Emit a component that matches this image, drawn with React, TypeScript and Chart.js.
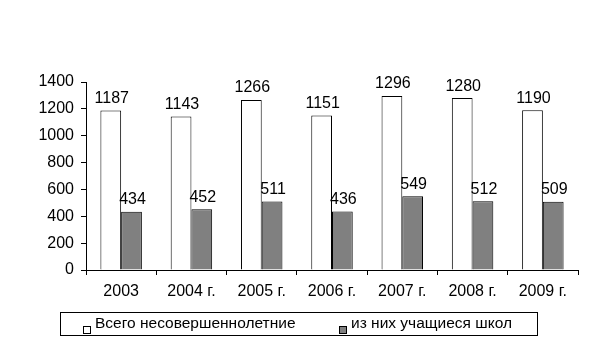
import React, { useEffect, useRef } from "react";
import { Chart, registerables } from "chart.js";

Chart.register(...registerables);

const categories = ["2003", "2004 г.", "2005 г.", "2006 г.", "2007 г.", "2008 г.", "2009 г."];
const totalMinors = [1187, 1143, 1266, 1151, 1296, 1280, 1190];
const schoolStudents = [434, 452, 511, 436, 549, 512, 509];
const seriesNames = ["Всего несовершеннолетние", "из них учащиеся школ"];
const yTicks = [0, 200, 400, 600, 800, 1000, 1200, 1400];

const FONT = "'Liberation Sans', Arial, sans-serif";

const labelsPlugin = {
  id: "valueLabels",
  afterDatasetsDraw(chart: any) {
    const ctx = chart.ctx;
    ctx.save();
    ctx.fillStyle = "#000";
    ctx.font = `16px ${FONT}`;
    ctx.textAlign = "center";
    ctx.textBaseline = "bottom";
    chart.data.datasets.forEach((ds: any, i: number) => {
      const meta = chart.getDatasetMeta(i);
      meta.data.forEach((bar: any, j: number) => {
        ctx.fillText(String(ds.data[j]), bar.x + 1, bar.y - 4);
      });
    });
    ctx.restore();
  },
};

const legendPlugin = {
  id: "boxLegend",
  afterDraw(chart: any) {
    const ctx = chart.ctx;
    ctx.save();
    ctx.strokeStyle = "#000";
    ctx.lineWidth = 1;
    ctx.strokeRect(60.5, 312.5, 477, 23);
    ctx.font = `15.5px ${FONT}`;
    ctx.textBaseline = "middle";
    ctx.textAlign = "left";
    const items = [
      { x: 83, fill: "#ffffff", text: seriesNames[0] },
      { x: 339, fill: "#808080", text: seriesNames[1] },
    ];
    items.forEach((it) => {
      ctx.fillStyle = it.fill;
      ctx.fillRect(it.x + 0.5, 326.5, 7, 7);
      ctx.strokeRect(it.x + 0.5, 326.5, 7, 7);
      ctx.fillStyle = "#000";
      ctx.fillText(it.text, it.x + 12, 324);
    });
    ctx.restore();
  },
};

export default function App() {
  const ref = useRef<HTMLCanvasElement>(null);
  useEffect(() => {
    if (!ref.current) return;
    const chart = new Chart(ref.current, {
      type: "bar",
      data: {
        labels: categories,
        datasets: [
          {
            label: seriesNames[0],
            data: totalMinors,
            backgroundColor: "#ffffff",
            borderColor: "#000000",
            borderWidth: 1,
            borderSkipped: "bottom",
          },
          {
            label: seriesNames[1],
            data: schoolStudents,
            backgroundColor: "#808080",
            borderColor: "#000000",
            borderWidth: 1,
            borderSkipped: "bottom",
          },
        ],
      },
      options: {
        animation: false,
        responsive: false,
        maintainAspectRatio: false,
        layout: { padding: { left: 0, right: 35, top: 82, bottom: 50 } },
        datasets: { bar: { categoryPercentage: 0.59, barPercentage: 1 } },
        plugins: { legend: { display: false }, tooltip: { enabled: false } },
        scales: {
          x: {
            grid: { drawOnChartArea: false, drawTicks: true, tickLength: 5, color: "#000", offset: true },
            border: { display: true, color: "#000" },
            ticks: { color: "#000", font: { family: FONT, size: 16 }, padding: 7, maxRotation: 0 },
            afterFit(scale: any) {
              scale.height = 32;
            },
          },
          y: {
            min: 0,
            max: 1400,
            afterBuildTicks(scale: any) {
              scale.ticks = yTicks.map((v) => ({ value: v }));
            },
            grid: { drawOnChartArea: false, drawTicks: true, tickLength: 5, color: "#000" },
            border: { display: true, color: "#000" },
            ticks: {
              color: "#000",
              font: { family: FONT, size: 16 },
              padding: 7,
              callback: (v: any) => String(v),
            },
            afterFit(scale: any) {
              scale.width = 86;
            },
          },
        },
      },
      plugins: [labelsPlugin, legendPlugin],
    });
    return () => chart.destroy();
  }, []);
  return (
    <div style={{ position: "fixed", left: 0, top: 0, width: 613, height: 352, background: "#fff" }}>
      <canvas ref={ref} width={613} height={352} style={{ width: 613, height: 352 }} />
    </div>
  );
}
